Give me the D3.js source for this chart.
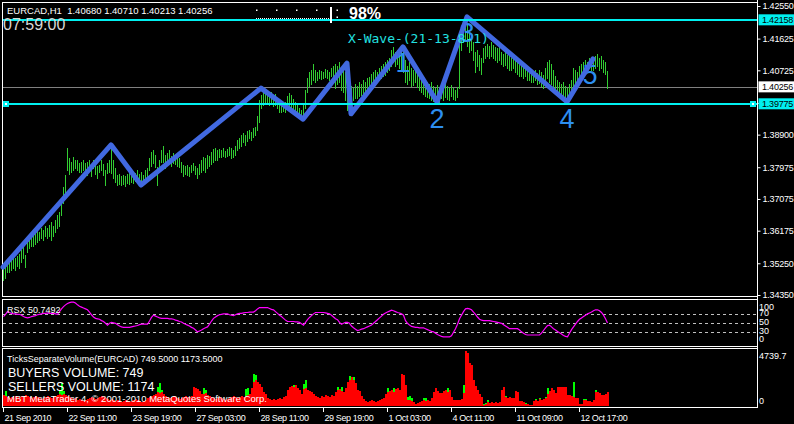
<!DOCTYPE html>
<html>
<head>
<meta charset="utf-8">
<script src="https://cdn.jsdelivr.net/npm/d3@7"></script>
<style>
  html, body { margin: 0; padding: 0; background: #000; }
  svg { display: block; font-family: "Liberation Sans", Arial, sans-serif; }
</style>
</head>
<body>
<svg id="chart" width="794" height="424"></svg>
<script>
// ---- data ----
const barHigh = [
  1.3517,1.3528,1.3534,1.3539,1.3536,1.3542,1.3539,1.3545,1.3551,1.3562,
  1.3573,1.3548,1.3590,1.3602,1.3607,1.3602,1.3610,1.3619,1.3613,1.3625,
  1.3619,1.3630,1.3625,1.3633,1.3642,1.3630,1.3647,1.3661,1.3670,1.3704,
  1.3741,1.3775,1.3852,1.3823,1.3812,1.3826,1.3818,1.3818,1.3809,1.3812,
  1.3818,1.3809,1.3812,1.3818,1.3803,1.3818,1.3812,1.3801,1.3803,1.3818,
  1.3806,1.3789,1.3809,1.3818,1.3852,1.3818,1.3795,1.3775,1.3778,1.3772,
  1.3775,1.3772,1.3778,1.3781,1.3775,1.3784,1.3781,1.3789,1.3778,1.3784,
  1.3775,1.3789,1.3795,1.3823,1.3840,1.3846,1.3832,1.3798,1.3818,1.3846,
  1.3857,1.3832,1.3837,1.3846,1.3829,1.3837,1.3832,1.3826,1.3823,1.3812,
  1.3803,1.3801,1.3803,1.3798,1.3803,1.3809,1.3801,1.3795,1.3806,1.3818,
  1.3826,1.3823,1.3832,1.3829,1.3840,1.3849,1.3852,1.3846,1.3849,1.3846,
  1.3852,1.3843,1.3849,1.3855,1.3852,1.3846,1.3857,1.3874,1.3880,1.3889,
  1.3894,1.3889,1.3900,1.3903,1.3897,1.3909,1.3911,1.3943,1.3988,1.4002,
  1.4011,1.4016,1.4008,1.4002,1.4011,1.3999,1.4005,1.3994,1.3980,1.3977,
  1.3980,1.3982,1.3999,1.4008,1.4002,1.3991,1.3982,1.3977,1.3965,1.3960,
  1.3977,1.4016,1.4050,1.4068,1.4073,1.4090,1.4073,1.4068,1.4073,1.4070,
  1.4068,1.4076,1.4073,1.4068,1.4079,1.4085,1.4090,1.4085,1.4096,1.4079,
  1.4073,1.4068,1.4045,1.4022,1.4028,1.4022,1.4033,1.4028,1.4039,1.4033,
  1.4045,1.4039,1.4050,1.4053,1.4062,1.4068,1.4073,1.4068,1.4079,1.4085,
  1.4090,1.4096,1.4102,1.4107,1.4130,1.4139,1.4124,1.4130,1.4122,1.4136,
  1.4124,1.4102,1.4085,1.4096,1.4079,1.4073,1.4082,1.4068,1.4062,1.4050,
  1.4056,1.4045,1.4039,1.4033,1.4039,1.4028,1.4022,1.4031,1.4022,1.4028,
  1.4022,1.4033,1.4028,1.4022,1.4031,1.4022,1.4016,1.4025,1.4158,1.4193,
  1.4210,1.4215,1.4204,1.4187,1.4175,1.4153,1.4124,1.4130,1.4116,1.4107,
  1.4136,1.4141,1.4147,1.4141,1.4153,1.4144,1.4139,1.4136,1.4141,1.4124,
  1.4119,1.4124,1.4116,1.4113,1.4107,1.4113,1.4102,1.4096,1.4096,1.4090,
  1.4085,1.4090,1.4085,1.4079,1.4073,1.4068,1.4073,1.4065,1.4073,1.4068,
  1.4059,1.4079,1.4096,1.4102,1.4090,1.4073,1.4056,1.4045,1.4039,1.4033,
  1.4039,1.4028,1.4022,1.4033,1.4045,1.4079,1.4073,1.4068,1.4085,1.4090,
  1.4096,1.4102,1.4096,1.4107,1.4102,1.4107,1.4113,1.4119,1.4107,1.4113,
  1.4102,1.4096,1.4071
];
const barLow = [
  1.3477,1.3483,1.3500,1.3500,1.3505,1.3511,1.3505,1.3517,1.3511,1.3528,
  1.3539,1.3514,1.3556,1.3568,1.3573,1.3573,1.3579,1.3585,1.3590,1.3596,
  1.3590,1.3602,1.3596,1.3602,1.3590,1.3602,1.3613,1.3625,1.3630,1.3661,
  1.3696,1.3713,1.3789,1.3778,1.3784,1.3789,1.3795,1.3789,1.3784,1.3784,
  1.3789,1.3781,1.3775,1.3789,1.3772,1.3795,1.3778,1.3767,1.3784,1.3789,
  1.3775,1.3747,1.3781,1.3784,1.3781,1.3767,1.3755,1.3747,1.3749,1.3747,
  1.3749,1.3744,1.3752,1.3749,1.3755,1.3752,1.3758,1.3761,1.3752,1.3755,
  1.3752,1.3761,1.3767,1.3789,1.3801,1.3809,1.3798,1.3747,1.3784,1.3812,
  1.3812,1.3795,1.3803,1.3809,1.3801,1.3809,1.3806,1.3801,1.3798,1.3784,
  1.3772,1.3778,1.3775,1.3772,1.3784,1.3789,1.3778,1.3767,1.3778,1.3784,
  1.3789,1.3784,1.3795,1.3801,1.3806,1.3812,1.3818,1.3818,1.3826,1.3826,
  1.3829,1.3826,1.3829,1.3832,1.3823,1.3826,1.3832,1.3846,1.3852,1.3857,
  1.3869,1.3860,1.3872,1.3880,1.3874,1.3883,1.3889,1.3903,1.3926,1.3965,
  1.3974,1.3982,1.3980,1.3974,1.3977,1.3971,1.3974,1.3965,1.3954,1.3954,
  1.3957,1.3954,1.3965,1.3971,1.3965,1.3960,1.3954,1.3948,1.3943,1.3937,
  1.3940,1.3965,1.4011,1.4028,1.4033,1.4045,1.4039,1.4045,1.4050,1.4048,
  1.4050,1.4053,1.4050,1.4045,1.4056,1.4045,1.4022,1.4033,1.4039,1.4016,
  1.4011,1.3988,1.3960,1.3954,1.3980,1.3988,1.3994,1.3994,1.3999,1.4002,
  1.4005,1.4011,1.4011,1.4016,1.4022,1.4028,1.4033,1.4039,1.4045,1.4050,
  1.4056,1.4059,1.4068,1.4073,1.4085,1.4096,1.4085,1.4090,1.4079,1.4073,
  1.4068,1.4039,1.4033,1.4045,1.4028,1.4031,1.4039,1.4025,1.4016,1.4011,
  1.4005,1.3999,1.3997,1.3994,1.3988,1.3985,1.3982,1.3988,1.3982,1.3994,
  1.3988,1.3997,1.3991,1.3988,1.3999,1.3991,1.3988,1.3997,1.4022,1.4130,
  1.4153,1.4158,1.4141,1.4124,1.4130,1.4102,1.4068,1.4085,1.4073,1.4062,
  1.4096,1.4107,1.4113,1.4107,1.4113,1.4107,1.4102,1.4096,1.4102,1.4090,
  1.4085,1.4087,1.4079,1.4073,1.4073,1.4079,1.4068,1.4062,1.4056,1.4056,
  1.4050,1.4056,1.4045,1.4045,1.4039,1.4039,1.4045,1.4033,1.4036,1.4028,
  1.4022,1.4039,1.4050,1.4039,1.4033,1.4022,1.4011,1.4002,1.3999,1.3994,
  1.3997,1.3988,1.3982,1.3997,1.4011,1.4028,1.4033,1.4039,1.4050,1.4056,
  1.4062,1.4068,1.4073,1.4079,1.4073,1.4073,1.4079,1.4085,1.4073,1.4079,
  1.4068,1.4062,1.4021
];

// zigzag pivots (bar index, price)
const zigIndex = [0, 54, 69, 129, 150, 172, 174, 200, 217, 232, 282, 295];
const zigPrice = [1.3514, 1.3861, 1.3747, 1.4022, 1.3934, 1.4093, 1.3949, 1.4139, 1.3983, 1.4224, 1.3983, 1.4105];

// wave count labels
const waveText  = ["1", "2", "3", "4", "5"];
const waveIndex = [200, 217, 232, 282, 293.5];
const wavePrice = [1.4096, 1.3937, 1.4181, 1.3937, 1.4062];

const levelPrice = [1.42158, 1.39775];   // cyan horizontal lines
const bidPrice = 1.40256;                // grey bid line
const priceTicks = [1.4255, 1.41625, 1.40725, 1.398, 1.389, 1.37975, 1.37075, 1.36175, 1.3525, 1.3435];

const timeTickIndex = [0, 32, 64, 96, 128, 160, 192, 224, 256, 288];
const timeLabels = ["21 Sep 2010", "22 Sep 11:00", "23 Sep 19:00", "27 Sep 03:00", "28 Sep 11:00",
                    "29 Sep 19:00", "1 Oct 03:00", "4 Oct 11:00", "11 Oct 09:00", "12 Oct 17:00"];

const rsxValues = [
  65,70,76,74,72,71,71,70,70,68, 65,63,62,63,65,66,67,69,70,71,
  72,72,73,72,72,72,71,70,76,82, 87,91,94,96,97,97,95,91,88,86,
  84,82,80,75,69,64,61,60,59,56, 54,50,46,50,52,51,50,47,44,42,
  41,41,41,41,42,43,44,45,47,48, 48,48,48,55,63,68,66,64,62,61,
  61,61,61,60,60,59,57,56,54,53, 50,48,46,44,41,39,35,31,33,35,
  38,40,42,48,55,61,64,67,69,70, 71,71,71,69,68,67,69,71,72,72,
  73,74,74,75,75,75,78,82,85,85, 85,85,85,83,81,80,76,72,68,65,
  61,57,54,54,54,54,53,53,52,49, 46,52,58,63,67,71,74,74,74,74,
  74,73,72,71,68,64,60,58,52,48, 50,52,52,50,44,40,37,34,35,37,
  38,40,42,44,46,50,54,58,62,66, 70,73,75,77,79,78,76,74,73,71,
  68,56,50,46,43,42,41,41,40,40, 40,38,36,34,32,31,28,25,23,21,
  20,20,20,20,22,30,38,48,60,68, 76,82,83,82,80,75,70,64,59,57,
  56,56,56,56,55,54,53,52,51,50, 47,44,41,38,38,38,38,38,35,31,
  28,25,24,24,24,24,24,24,24,28, 34,40,45,46,42,38,35,32,29,26,
  23,21,20,28,36,42,48,54,59,62, 65,68,71,73,75,78,80,80,78,74,
  68,60,50.7492
];
const rsxLevels = [70, 50, 30];
const rsxScaleLabels = [100, 70, 50, 30, 0];

const sellVolume = [
  970,880,790,700,790,700,880,790,700,880, 790,970,880,790,700,790,880,790,700,610,
  700,790,880,790,700,790,880,970,1050,970, 1050,970,880,790,700,610,700,530,610,530,
  440,530,610,700,790,700,610,700,790,880, 790,700,610,530,610,530,440,530,440,350,
  440,530,440,350,440,530,610,530,440,350, 440,530,700,790,880,970,1050,1230,1140,1230,
  1050,880,790,700,790,880,790,700,610,700, 790,880,790,700,880,1670,1580,1490,1320,1050,
  1050,1140,970,880,790,700,610,700,790,700, 610,530,610,700,790,880,790,700,790,880,
  790,880,970,1050,1580,2110,2280,2110,1930,1670, 1230,1050,700,610,530,610,530,610,700,610,
  790,880,1400,1670,1760,1670,1840,1580,1400,1050, 1490,1580,1400,1320,1230,1050,880,790,700,880,
  790,970,880,790,970,880,1230,1400,1490,1320, 1230,1580,2110,2280,2460,2200,2020,1400,1320,880,
  610,440,350,440,530,440,350,440,530,610, 700,1050,1230,1320,1400,1230,1490,1580,1400,2720,
  2630,1840,530,530,440,350,180,260,350,440, 530,440,530,440,700,1230,1580,1320,1140,1140,
  1320,1400,1230,1400,790,530,530,530,530,610, 1140,4740,4570,3690,3510,2280,1760,1400,1050,790,
  90,180,350,260,350,260,350,260,350,1400, 1670,790,700,790,700,700,1320,1230,440,440,
  350,180,180,90,90,440,530,440,610,530, 610,700,1050,1320,1580,1400,1140,1670,1670,1670,
  1670,1670,970,970,880,790,700,700,180,180, 530,530,440,440,350,530,1230,1230,1140,970,
  970,1050,1173.5
];
const buyVolume = [
  700,1320,530,440,530,530,610,530,610,530, 610,700,610,530,530,610,700,610,530,440,
  530,610,700,530,530,610,700,790,1400,2020, 1320,790,700,610,530,440,530,440,440,350,
  350,440,440,530,610,530,530,530,610,700, 610,530,440,440,530,350,350,440,350,260,
  350,350,260,260,350,440,440,350,350,260, 350,440,530,610,700,790,880,1670,2020,1400,
  880,700,610,610,530,610,610,530,440,530, 610,700,610,530,610,1050,1140,1050,970,880,
  1580,1400,790,700,610,530,530,530,610,530, 440,440,440,530,610,610,610,530,610,700,
  610,1490,1580,880,1230,2720,2630,1760,1580,1320, 970,790,530,440,440,440,350,440,530,440,
  610,700,1050,1320,1400,1840,1490,1230,1050,880, 1930,2280,1050,970,880,790,700,610,530,700,
  610,700,700,610,790,700,970,1670,1230,1670, 970,1230,1670,2550,1930,2460,1580,1050,970,700,
  440,350,260,350,350,260,260,350,350,440, 530,790,1580,1050,1140,1580,1140,1230,1140,2110,
  2110,1400,790,880,700,260,90,180,260,350, 700,700,440,350,530,970,1230,1050,880,970,
  1050,1230,1580,1140,610,440,440,350,440,440, 1840,3510,3340,2900,2630,1760,1320,1050,790,610,
  180,260,530,180,260,180,260,180,260,1050, 1230,880,610,530,530,530,970,880,350,260,
  260,260,90,90,90,350,610,350,700,440, 530,790,1580,1050,1230,1050,880,1320,1230,1320,
  1230,1230,700,790,700,2110,530,530,90,90, 610,610,350,350,260,440,1400,1050,880,700,
  700,790,749.5
];
const volumeMax = 4739.7;

// ---- layout ----
const W = 794, H = 424;
const axisX = 757;          // right price-scale line
const main = { top: 2.5, bottom: 296.5 };
const rsxPane = { top: 299.5, bottom: 346.5 };
const volPane = { top: 348.5, bottom: 407.5 };

const svg = d3.select('#chart');
svg.append('rect').attr('width', W).attr('height', H).attr('fill', '#000');

const x = d3.scaleLinear().domain([0, barHigh.length - 1]).range([3, 3 + 2 * (barHigh.length - 1)]);
const yP = d3.scaleLinear().domain([1.3435, 1.4255]).range([295, 6]);
const yR = d3.scaleLinear().domain([0, 100]).range([345.8, 300.8]);
const yV = d3.scaleLinear().domain([0, volumeMax]).range([406, 351]);

// pane borders
[main, rsxPane, volPane].forEach(p => {
  svg.append('rect')
    .attr('x', 2.5).attr('y', p.top)
    .attr('width', axisX + 0.5 - 2.5).attr('height', p.bottom - p.top)
    .attr('fill', 'none').attr('stroke', '#fff').attr('stroke-width', 1)
    .attr('shape-rendering', 'crispEdges');
});
svg.append('line')
  .attr('x1', axisX + 0.5).attr('x2', axisX + 0.5).attr('y1', 0).attr('y2', volPane.bottom)
  .attr('stroke', '#fff').attr('shape-rendering', 'crispEdges');

// ---- main pane ----
const gMain = svg.append('g');

// bid line
gMain.append('line')
  .attr('x1', 3).attr('x2', axisX).attr('y1', Math.round(yP(bidPrice)) + 0.5).attr('y2', Math.round(yP(bidPrice)) + 0.5)
  .attr('stroke', '#808080').attr('shape-rendering', 'crispEdges');

// HL bars
gMain.append('g').selectAll('line').data(barHigh).join('line')
  .attr('x1', (d, i) => Math.round(x(i)) + 0.5)
  .attr('x2', (d, i) => Math.round(x(i)) + 0.5)
  .attr('y1', d => yP(d))
  .attr('y2', (d, i) => yP(barLow[i]) + 1)
  .attr('stroke', '#32cd32').attr('stroke-width', 1)
  .attr('shape-rendering', 'crispEdges');

// wave labels (under the zigzag)
gMain.append('g').selectAll('text').data(waveText).join('text')
  .attr('x', (d, i) => x(waveIndex[i]))
  .attr('y', (d, i) => yP(wavePrice[i]))
  .attr('dy', '0.36em')
  .attr('text-anchor', 'middle')
  .attr('font-size', 27)
  .attr('fill', '#2d8ef0')
  .text(d => d);

// zigzag
const zig = zigIndex.map((d, i) => [x(d), yP(zigPrice[i])]);
gMain.append('path')
  .attr('d', d3.line()(zig))
  .attr('fill', 'none').attr('stroke', '#4169e1').attr('stroke-width', 5)
  .attr('stroke-linejoin', 'round').attr('stroke-linecap', 'round');

// cyan levels
gMain.append('g').selectAll('line').data(levelPrice).join('line')
  .attr('x1', 3).attr('x2', axisX)
  .attr('y1', d => Math.round(yP(d))).attr('y2', d => Math.round(yP(d)))
  .attr('stroke', '#00f0f0').attr('stroke-width', 2)
  .attr('shape-rendering', 'crispEdges');

// selection handles on the lower level
const selY = Math.round(yP(levelPrice[1]));
[3, 750].forEach(hx => {
  gMain.append('rect').attr('x', hx).attr('y', selY - 3).attr('width', 6).attr('height', 6).attr('fill', '#00f0f0');
  gMain.append('rect').attr('x', hx + 2).attr('y', selY - 1).attr('width', 2).attr('height', 2).attr('fill', '#fff');
});

// wave name
gMain.append('text')
  .attr('x', 348).attr('y', 43)
  .attr('font-family', '"DejaVu Sans Mono", monospace')
  .attr('font-size', 13)
  .attr('fill', '#22e0e0')
  .text('X-Wave-(21-13-8-1)');

// header
svg.append('text')
  .attr('x', 7).attr('y', 14)
  .attr('font-size', 9.5).attr('fill', '#fff')
  .style('white-space', 'pre')
  .text('EURCAD,H1  1.40680 1.40710 1.40213 1.40256');
svg.append('text')
  .attr('x', 3).attr('y', 30)
  .attr('font-size', 16).attr('fill', '#d8d8d8')
  .text('07:59:00');

// bar-progress widget
const gProg = svg.append('g').attr('fill', '#fff');
[256, 276, 296, 316].forEach(px => gProg.append('rect').attr('x', px).attr('y', 9.5).attr('width', 1.5).attr('height', 1.5));
svg.append('line').attr('x1', 256).attr('x2', 329).attr('y1', 18.5).attr('y2', 18.5)
  .attr('stroke', '#fff').attr('stroke-dasharray', '1,1');
gProg.append('rect').attr('x', 330).attr('y', 7).attr('width', 2).attr('height', 16);
gProg.append('rect').attr('x', 336.5).attr('y', 9.5).attr('width', 1.5).attr('height', 1.5);
gProg.append('rect').attr('x', 336.5).attr('y', 16.5).attr('width', 1.5).attr('height', 1.5);
svg.append('text')
  .attr('x', 349).attr('y', 19)
  .attr('font-size', 16).attr('font-weight', 'bold').attr('fill', '#fff')
  .text('98%');

// price scale
const pAxis = svg.append('g')
  .attr('transform', `translate(${axisX + 0.5},0)`)
  .attr('color', '#fff')
  .call(d3.axisRight(yP).tickValues(priceTicks).tickFormat(d => d.toFixed(5)).tickSize(3).tickPadding(2));
pAxis.select('.domain').remove();
pAxis.selectAll('text').attr('font-size', 9).attr('letter-spacing', -0.2).attr('fill', '#fff');
pAxis.attr('font-family', null);

// price tags
const tags = [
  { p: levelPrice[0], bg: '#00f0f0' },
  { p: levelPrice[1], bg: '#00f0f0' },
  { p: bidPrice, bg: '#fff' }
];
const gTags = svg.append('g');
tags.forEach(t => {
  const ty = yP(t.p);
  gTags.append('rect').attr('x', axisX + 1.5).attr('y', ty - 5.5).attr('width', 37).attr('height', 11).attr('fill', t.bg);
  gTags.append('text')
    .attr('x', axisX + 5).attr('y', ty).attr('dy', '0.35em')
    .attr('font-size', 9).attr('letter-spacing', -0.2).attr('fill', '#000')
    .text(t.p.toFixed(5));
});

// ---- RSX pane ----
const gRsx = svg.append('g');
gRsx.selectAll('line.lvl').data(rsxLevels).join('line')
  .attr('class', 'lvl')
  .attr('x1', 3).attr('x2', axisX)
  .attr('y1', d => Math.round(yR(d)) + 0.5).attr('y2', d => Math.round(yR(d)) + 0.5)
  .attr('stroke', '#c0c0c0').attr('stroke-dasharray', '3,3')
  .attr('shape-rendering', 'crispEdges');
gRsx.append('path')
  .attr('d', d3.line().x((d, i) => x(i) + 0.5).y(d => yR(d))(rsxValues))
  .attr('fill', 'none').attr('stroke', '#ff00ff').attr('stroke-width', 1.2);
gRsx.append('text')
  .attr('x', 7).attr('y', 313)
  .attr('font-size', 9).attr('fill', '#fff')
  .text('RSX 50.7492');
gRsx.selectAll('text.scl').data(rsxScaleLabels).join('text')
  .attr('class', 'scl')
  .attr('x', axisX + 2).attr('y', d => Math.min(Math.max(yR(d) - 1, 306.5), 338.5))
  .attr('dy', '0.35em')
  .attr('font-size', 9).attr('fill', '#fff')
  .text(d => d);

// ---- volume pane ----
const gVol = svg.append('g').attr('shape-rendering', 'crispEdges');
gVol.append('g').selectAll('rect').data(buyVolume).join('rect')
  .attr('x', (d, i) => Math.round(x(i)))
  .attr('width', 2)
  .attr('y', d => yV(d))
  .attr('height', d => yV(0) - yV(d))
  .attr('fill', '#00ff00');
gVol.append('g').selectAll('rect').data(sellVolume).join('rect')
  .attr('x', (d, i) => Math.round(x(i)))
  .attr('width', 2)
  .attr('y', d => yV(d))
  .attr('height', d => yV(0) - yV(d))
  .attr('fill', '#ff0000');

const volText = svg.append('g').attr('fill', '#fff');
volText.append('text').attr('x', 7).attr('y', 361.5).attr('font-size', 9)
  .text('TicksSeparateVolume(EURCAD) 749.5000 1173.5000');
volText.append('text').attr('x', 8).attr('y', 377).attr('font-size', 12.5)
  .text('BUYERS VOLUME: 749');
volText.append('text').attr('x', 8).attr('y', 391).attr('font-size', 12.5)
  .text('SELLERS VOLUME: 1174');
volText.append('text').attr('x', 7).attr('y', 402).attr('font-size', 9.5)
  .text('MBT MetaTrader 4, \u00a9 2001-2010 MetaQuotes Software Corp.');

volText.append('text').attr('x', axisX + 2).attr('y', yV(volumeMax) + 5).attr('dy', '0.35em')
  .attr('font-size', 9).text(volumeMax.toFixed(1));
volText.append('text').attr('x', axisX + 2).attr('y', yV(0) - 5.5).attr('dy', '0.35em')
  .attr('font-size', 9).text('0');

// ---- time axis ----
const tAxis = svg.append('g')
  .attr('transform', `translate(0,${volPane.bottom})`)
  .attr('color', '#fff')
  .call(d3.axisBottom(x).tickValues(timeTickIndex).tickFormat((d, i) => timeLabels[i]).tickSize(4).tickPadding(3));
tAxis.select('.domain').remove();
tAxis.selectAll('.tick line').attr('shape-rendering', 'crispEdges');
tAxis.selectAll('text')
  .attr('text-anchor', 'start').attr('x', 1)
  .attr('font-size', 9).attr('letter-spacing', -0.4).attr('fill', '#fff');
tAxis.attr('font-family', null);
</script>
</body>
</html>
